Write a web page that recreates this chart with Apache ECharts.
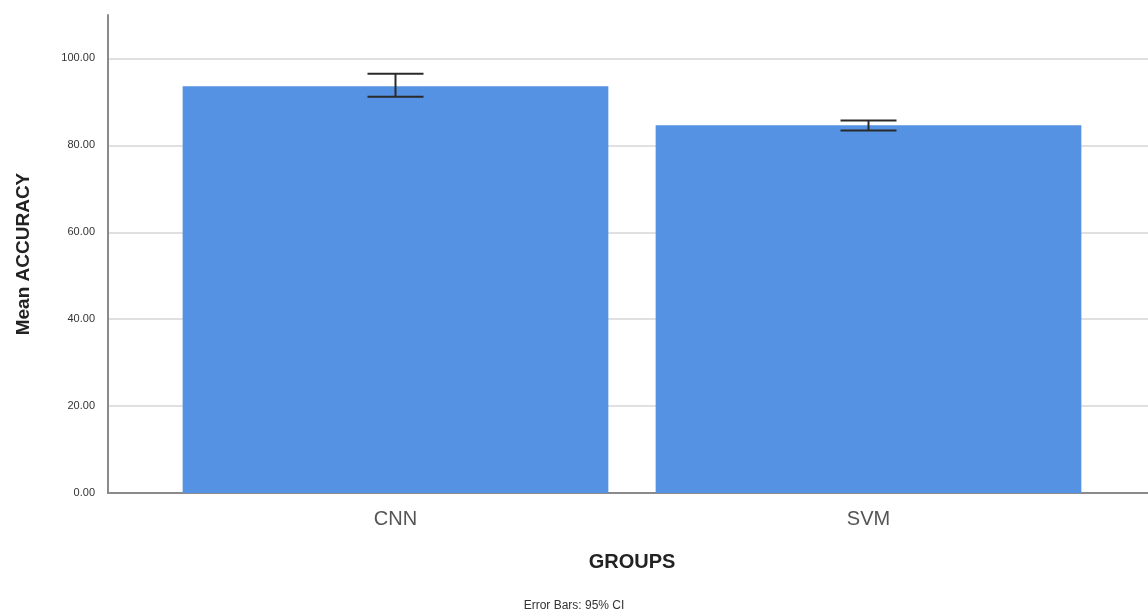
<!DOCTYPE html>
<html>
<head>
<meta charset="utf-8">
<script src="https://cdn.jsdelivr.net/npm/echarts@6/dist/echarts.min.js"></script>
<style>
  html, body { margin: 0; padding: 0; background: #ffffff; }
  #chart { width: 1148px; height: 614px; }
</style>
</head>
<body>
<div id="chart"></div>
<script>
// Groups and their mean accuracy with 95% confidence limits
const categories = ['CNN', 'SVM'];
const meanAccuracy = [93.6, 84.6];
const ciLower = [91.2, 83.4];
const ciUpper = [96.5, 85.7];
const yTicks = [0, 20, 40, 60, 80, 100];

const FONT = '"Liberation Sans", Arial, sans-serif';
const chart = echarts.init(document.getElementById('chart'), null, { renderer: 'canvas' });

const errorData = categories.map((c, i) => [i, ciLower[i], ciUpper[i]]);

chart.setOption({
  backgroundColor: '#ffffff',
  animation: false,
  textStyle: { fontFamily: FONT },
  title: {
    text: 'Error Bars: 95% CI',
    left: 'center',
    top: 595,
    textStyle: { fontFamily: FONT, fontSize: 12, fontWeight: 'normal', color: '#333' }
  },
  grid: [
    { left: 108, right: 0, top: 15, bottom: 121 },
    { left: 159, right: 43, top: 15, bottom: 121 }
  ],
  xAxis: [
    {
      gridIndex: 0, type: 'category', data: categories,
      axisLine: { lineStyle: { color: '#8a8a8a', width: 2 } },
      axisTick: { show: false }, axisLabel: { show: false }
    },
    {
      gridIndex: 1, type: 'category', data: categories,
      axisLine: { show: false }, axisTick: { show: false },
      axisLabel: { fontFamily: FONT, fontSize: 20, color: '#555', margin: 16 },
      name: 'GROUPS', nameLocation: 'middle', nameGap: 59,
      nameTextStyle: { fontFamily: FONT, fontSize: 20, fontWeight: 'bold', color: '#222' }
    }
  ],
  yAxis: [
    {
      gridIndex: 0, type: 'value', min: 0, max: 110, interval: 20,
      axisLine: { show: true, lineStyle: { color: '#8a8a8a', width: 2 } },
      axisTick: { show: false },
      axisLabel: {
        fontFamily: FONT, fontSize: 11, color: '#333', margin: 13,
        formatter: v => (yTicks.indexOf(v) >= 0 ? v.toFixed(2) : '')
      },
      splitLine: { show: true, showMaxLine: false, lineStyle: { color: '#d6d6d6', width: 1.5 } },
      name: 'Mean ACCURACY', nameLocation: 'middle', nameGap: 75,
      nameTextStyle: { fontFamily: FONT, fontSize: 19, fontWeight: 'bold', color: '#222' }
    },
    {
      gridIndex: 1, type: 'value', min: 0, max: 110, show: false
    }
  ],
  series: [
    {
      type: 'bar',
      xAxisIndex: 1, yAxisIndex: 1,
      data: meanAccuracy,
      barCategoryGap: '10%',
      itemStyle: { color: '#5592e3' }
    },
    {
      type: 'custom',
      xAxisIndex: 1, yAxisIndex: 1,
      data: errorData,
      z: 5,
      renderItem: function (params, api) {
        const lo = api.coord([api.value(0), api.value(1)]);
        const hi = api.coord([api.value(0), api.value(2)]);
        const half = 28;
        const style = { stroke: '#2a2a2a', lineWidth: 2 };
        return {
          type: 'group',
          children: [
            { type: 'line', shape: { x1: lo[0], y1: lo[1], x2: hi[0], y2: hi[1] }, style },
            { type: 'line', shape: { x1: hi[0] - half, y1: hi[1], x2: hi[0] + half, y2: hi[1] }, style },
            { type: 'line', shape: { x1: lo[0] - half, y1: lo[1], x2: lo[0] + half, y2: lo[1] }, style }
          ]
        };
      }
    }
  ]
});
</script>
</body>
</html>
